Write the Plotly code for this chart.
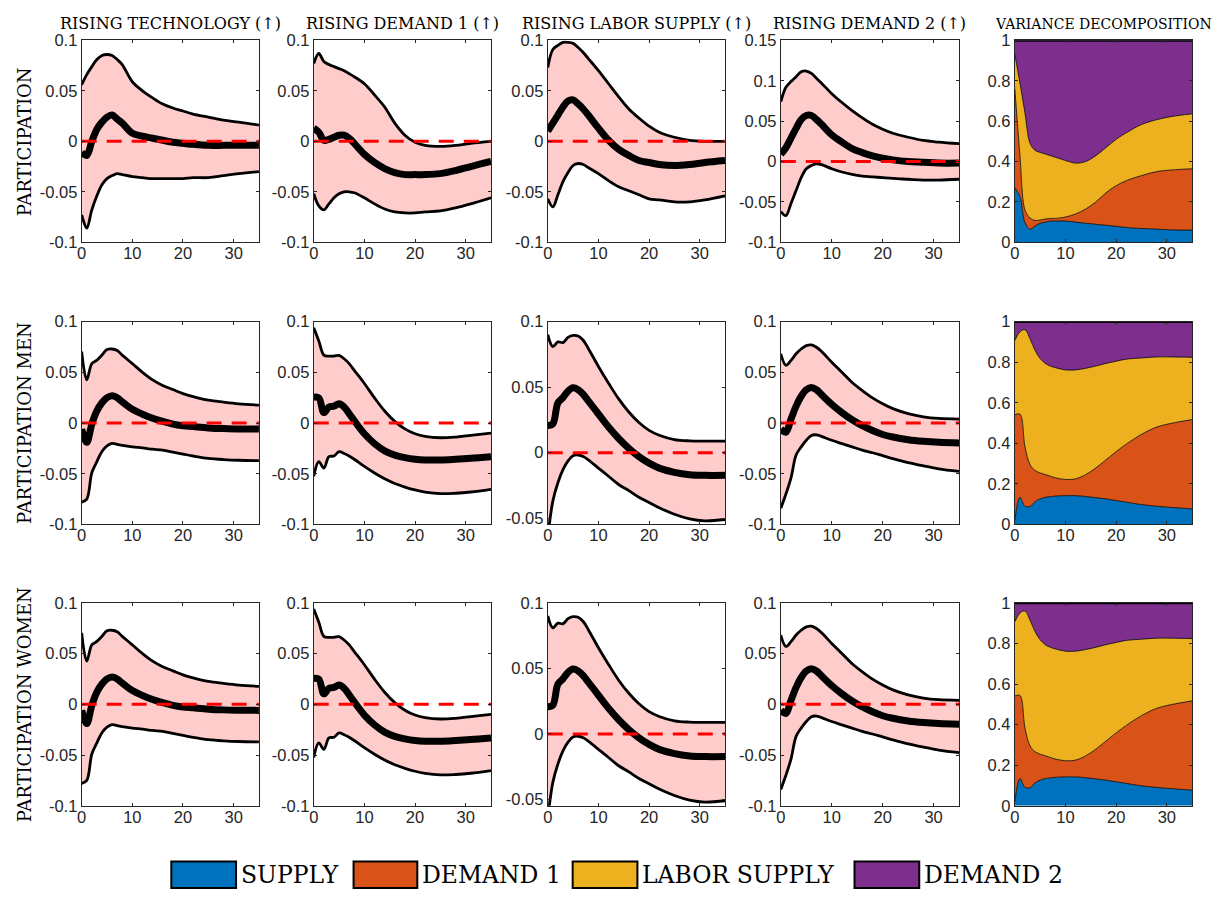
import plotly.graph_objects as go
from plotly.subplots import make_subplots

W, H = 1222, 899

# ---------------- data ----------------
HORIZON = [0, 1, 2, 3, 4, 5, 6, 7, 8, 10, 12, 14, 16, 18, 20, 22, 25, 28, 31, 35]

COL_TITLES = ["RISING TECHNOLOGY (\u2191)", "RISING DEMAND 1 (\u2191)", "RISING LABOR SUPPLY (\u2191)",
              "RISING DEMAND 2 (\u2191)", "VARIANCE DECOMPOSITION"]
ROW_TITLES = ["PARTICIPATION", "PARTICIPATION MEN", "PARTICIPATION WOMEN"]
SHOCKS = ["SUPPLY", "DEMAND 1", "LABOR SUPPLY", "DEMAND 2"]

# Row 1: participation
P_TECH_UP = [.056, .066, .074, .081, .085, .086, .085, .081, .076, .059, .050, .043, .037, .033, .030, .027, .024, .021, .019, .016]
P_TECH_MED = [-.011, -.014, .000, .012, .019, .024, .026, .022, .018, .008, .005, .003, .001, -.001, -.002, -.003, -.004, -.004, -.004, -.004]
P_TECH_LO = [-.073, -.086, -.068, -.054, -.043, -.037, -.034, -.032, -.033, -.035, -.036, -.037, -.037, -.037, -.037, -.036, -.036, -.034, -.032, -.030]

P_D1_UP = [.077, .087, .079, .076, .074, .072, .070, .067, .064, .057, .046, .034, .018, .006, -.001, -.004, -.005, -.004, -.002, .000]
P_D1_MED = [.013, .009, .001, .002, .004, .006, .006, .003, -.002, -.013, -.021, -.027, -.031, -.033, -.033, -.033, -.032, -.029, -.025, -.020]
P_D1_LO = [-.052, -.064, -.068, -.062, -.056, -.052, -.050, -.050, -.051, -.056, -.062, -.067, -.070, -.071, -.071, -.070, -.069, -.066, -.062, -.056]

P_LS_UP = [.073, .091, .095, .098, .098, .097, .093, .088, .082, .070, .057, .044, .032, .023, .015, .009, .004, .001, .000, .000]
P_LS_MED = [.010, .018, .026, .034, .040, .041, .037, .032, .026, .013, .001, -.008, -.014, -.019, -.021, -.023, -.024, -.023, -.021, -.019]
P_LS_LO = [-.057, -.065, -.053, -.040, -.031, -.024, -.022, -.023, -.026, -.032, -.039, -.045, -.049, -.053, -.057, -.058, -.060, -.060, -.058, -.054]

P_D2_UP = [.074, .092, .099, .105, .111, .112, .109, .103, .097, .084, .073, .063, .054, .046, .040, .035, .030, .026, .024, .022]
P_D2_MED = [.009, .017, .029, .041, .052, .057, .057, .052, .046, .033, .024, .016, .011, .007, .004, .002, .000, -.001, -.002, -.002]
P_D2_LO = [-.062, -.067, -.052, -.036, -.020, -.009, -.005, -.003, -.004, -.009, -.013, -.016, -.018, -.019, -.020, -.021, -.022, -.023, -.023, -.022]

P_VD_SUPPLY = [.270, .227, .097, .065, .081, .094, .100, .105, .105, .105, .100, .094, .089, .084, .079, .073, .068, .065, .061, .060]
P_VD_DEMAND1 = [.490, .203, .063, .055, .027, .016, .015, .013, .013, .020, .040, .071, .111, .161, .201, .232, .262, .285, .297, .304]
P_VD_LABOR = [.170, .360, .480, .370, .347, .335, .322, .311, .303, .280, .252, .235, .229, .224, .230, .237, .253, .257, .265, .272]
P_VD_DEMAND2 = [.070, .210, .360, .510, .545, .555, .563, .571, .579, .595, .608, .600, .571, .531, .490, .458, .417, .393, .377, .364]

# Row 2: participation men
M_TECH_UP = [.0705, .0425, .0586, .062, .067, .0725, .073, .0715, .067, .0586, .050, .0425, .037, .033, .029, .026, .0225, .0206, .019, .0177]
M_TECH_MED = [-.006, -.019, -.001, .012, .020, .025, .027, .025, .021, .0135, .0087, .0048, .0016, -.001, -.0026, -.0035, -.0048, -.0055, -.0058, -.006]
M_TECH_LO = [-.078, -.075, -.049, -.038, -.028, -.0225, -.020, -.021, -.022, -.0235, -.0245, -.0258, -.0267, -.0287, -.0306, -.0325, -.0348, -.036, -.0367, -.037]

M_D1_UP = [.094, .081, .067, .066, .066, .0667, .0634, .0586, .052, .039, .0248, .0119, .0016, -.0058, -.0106, -.0132, -.0145, -.0138, -.0122, -.010]
M_D1_MED = [.0254, .0248, .0103, .0158, .0167, .019, .0158, .0093, .0023, -.0106, -.0203, -.0274, -.0316, -.0341, -.0357, -.0364, -.0364, -.0357, -.0348, -.0332]
M_D1_LO = [-.0525, -.038, -.0444, -.0332, -.0325, -.0283, -.030, -.0325, -.0357, -.0428, -.0493, -.055, -.0596, -.0631, -.066, -.068, -.0696, -.0692, -.068, -.0654]

M_LS_UP = [.090, .081, .0845, .084, .088, .0895, .089, .0858, .0795, .0658, .053, .041, .031, .023, .017, .0133, .010, .009, .0088, .0088]
M_LS_MED = [.0208, .022, .038, .042, .047, .0495, .048, .0445, .0395, .0295, .0195, .0108, .0033, -.003, -.008, -.0118, -.015, -.0168, -.0173, -.0173]
M_LS_LO = [-.065, -.037, -.023, -.013, -.0063, -.0023, -.0018, -.003, -.0055, -.0118, -.018, -.0243, -.029, -.034, -.038, -.042, -.047, -.0505, -.052, -.051]

M_D2_UP = [.0683, .057, .0618, .0683, .073, .0763, .077, .0747, .0705, .060, .050, .040, .032, .0248, .019, .0142, .0093, .0061, .0045, .0039]
M_D2_MED = [-.0058, -.009, .0039, .0167, .0264, .0328, .035, .0328, .028, .0184, .0103, .0032, -.0026, -.0074, -.0113, -.0138, -.0164, -.018, -.019, -.0196]
M_D2_LO = [-.084, -.070, -.054, -.0316, -.0235, -.017, -.0122, -.0116, -.0132, -.017, -.0203, -.0235, -.0267, -.0293, -.0322, -.0351, -.039, -.0422, -.0451, -.0477]

M_VD_SUPPLY = [.020, .134, .090, .089, .113, .126, .134, .137, .140, .142, .142, .138, .132, .126, .118, .110, .098, .090, .084, .077]
M_VD_DEMAND1 = [.521, .410, .293, .206, .153, .128, .112, .101, .090, .080, .083, .108, .147, .193, .241, .286, .346, .390, .415, .440]
M_VD_LABOR = [.366, .406, .577, .620, .592, .564, .548, .543, .543, .540, .537, .524, .502, .475, .446, .419, .377, .346, .327, .307]
M_VD_DEMAND2 = [.093, .050, .040, .085, .142, .182, .206, .219, .227, .238, .238, .230, .219, .206, .195, .185, .179, .174, .174, .176]

# Row 3: participation women (same estimates as men in the source figure)
F_TECH_UP, F_TECH_MED, F_TECH_LO = M_TECH_UP, M_TECH_MED, M_TECH_LO
F_D1_UP, F_D1_MED, F_D1_LO = M_D1_UP, M_D1_MED, M_D1_LO
F_LS_UP, F_LS_MED, F_LS_LO = M_LS_UP, M_LS_MED, M_LS_LO
F_D2_UP, F_D2_MED, F_D2_LO = M_D2_UP, M_D2_MED, M_D2_LO
F_VD_SUPPLY, F_VD_DEMAND1, F_VD_LABOR, F_VD_DEMAND2 = M_VD_SUPPLY, M_VD_DEMAND1, M_VD_LABOR, M_VD_DEMAND2

# axis ticks
X_TICKS = [0, 10, 20, 30]
Y_TICKS_STD = [-0.1, -0.05, 0, 0.05, 0.1]
Y_TEXT_STD = ["-0.1", "-0.05", "0", "0.05", "0.1"]
Y_TICKS_D2 = [-0.1, -0.05, 0, 0.05, 0.1, 0.15]
Y_TEXT_D2 = ["-0.1", "-0.05", "0", "0.05", "0.1", "0.15"]
Y_TICKS_LS = [-0.05, 0, 0.05, 0.1]
Y_TEXT_LS = ["-0.05", "0", "0.05", "0.1"]
Y_TICKS_VD = [0, 0.2, 0.4, 0.6, 0.8, 1]
Y_TEXT_VD = ["0", "0.2", "0.4", "0.6", "0.8", "1"]

# ---------------- styling / layout ----------------
COL_PX = [(77, 255), (310, 488), (545, 723), (779, 958), (1014, 1192)]
ROW_PX = [(32, 238), (319, 526), (606, 813)]
BAND = "#FFCCCC"
AXC = "#262626"
VD_COLORS = ["#0072BD", "#D95319", "#EDB120", "#7E2F8E"]
SERIF = "DejaVu Serif"
SANS = "Liberation Sans, Arial"

IRF = [
    [(P_TECH_UP, P_TECH_MED, P_TECH_LO), (P_D1_UP, P_D1_MED, P_D1_LO), (P_LS_UP, P_LS_MED, P_LS_LO), (P_D2_UP, P_D2_MED, P_D2_LO)],
    [(M_TECH_UP, M_TECH_MED, M_TECH_LO), (M_D1_UP, M_D1_MED, M_D1_LO), (M_LS_UP, M_LS_MED, M_LS_LO), (M_D2_UP, M_D2_MED, M_D2_LO)],
    [(F_TECH_UP, F_TECH_MED, F_TECH_LO), (F_D1_UP, F_D1_MED, F_D1_LO), (F_LS_UP, F_LS_MED, F_LS_LO), (F_D2_UP, F_D2_MED, F_D2_LO)],
]
VD = [
    (P_VD_SUPPLY, P_VD_DEMAND1, P_VD_LABOR, P_VD_DEMAND2),
    (M_VD_SUPPLY, M_VD_DEMAND1, M_VD_LABOR, M_VD_DEMAND2),
    (F_VD_SUPPLY, F_VD_DEMAND1, F_VD_LABOR, F_VD_DEMAND2),
]
YAX = [
    [(Y_TICKS_STD, Y_TEXT_STD, [-0.1, 0.1]), (Y_TICKS_STD, Y_TEXT_STD, [-0.1, 0.1]),
     (Y_TICKS_STD, Y_TEXT_STD, [-0.1, 0.1]), (Y_TICKS_D2, Y_TEXT_D2, [-0.1, 0.15])],
    [(Y_TICKS_STD, Y_TEXT_STD, [-0.1, 0.1]), (Y_TICKS_STD, Y_TEXT_STD, [-0.1, 0.1]),
     (Y_TICKS_LS, Y_TEXT_LS, [-0.0548, 0.1]), (Y_TICKS_STD, Y_TEXT_STD, [-0.1, 0.1])],
    [(Y_TICKS_STD, Y_TEXT_STD, [-0.1, 0.1]), (Y_TICKS_STD, Y_TEXT_STD, [-0.1, 0.1]),
     (Y_TICKS_LS, Y_TEXT_LS, [-0.0548, 0.1]), (Y_TICKS_STD, Y_TEXT_STD, [-0.1, 0.1])],
]

fig = make_subplots(rows=3, cols=5, horizontal_spacing=0.02, vertical_spacing=0.05)

for r in range(3):
    for c in range(4):
        up, med, lo = IRF[r][c]
        kw = dict(row=r + 1, col=c + 1)
        fig.add_trace(go.Scatter(x=HORIZON, y=lo, mode="lines", line=dict(width=0, shape="spline"),
                                 hoverinfo="skip", showlegend=False), **kw)
        fig.add_trace(go.Scatter(x=HORIZON, y=up, mode="lines", line=dict(width=0, shape="spline"),
                                 fill="tonexty", fillcolor=BAND, hoverinfo="skip", showlegend=False), **kw)
        for band in (lo, up):
            fig.add_trace(go.Scatter(x=HORIZON, y=band, mode="lines",
                                     line=dict(color="black", width=2.8, shape="spline"),
                                     showlegend=False), **kw)
        fig.add_trace(go.Scatter(x=HORIZON, y=med, mode="lines",
                                 line=dict(color="black", width=7, shape="spline"),
                                 showlegend=False), **kw)
        fig.add_trace(go.Scatter(x=[HORIZON[0], HORIZON[-1]], y=[0, 0], mode="lines",
                                 line=dict(color="#FF0000", width=3, dash="15px,10px"),
                                 showlegend=False), **kw)
    # variance decomposition
    for k, share in enumerate(VD[r]):
        fig.add_trace(go.Scatter(x=HORIZON, y=share, mode="lines", stackgroup=f"vd{r}",
                                 fillcolor=VD_COLORS[k], name=SHOCKS[k],
                                 line=dict(color="black", width=3 if k == 3 else 0.8, shape="spline"),
                                 showlegend=False), row=r + 1, col=5)

axis_common = dict(showline=True, linecolor=AXC, linewidth=1, mirror="ticks", ticks="inside",
                   ticklen=3, tickcolor=AXC, showgrid=False, zeroline=False,
                   tickfont=dict(family=SANS, size=16.5, color=AXC))

for r in range(3):
    for c in range(5):
        x0, x1 = COL_PX[c]
        y0, y1 = ROW_PX[r]
        fig.update_xaxes(domain=[x0 / W, x1 / W], range=[0, 35], tickvals=X_TICKS,
                         ticktext=[str(v) for v in X_TICKS], ticklabelstandoff=-4,
                         row=r + 1, col=c + 1, **axis_common)
        if c < 4:
            tv, tt, rg = YAX[r][c]
        else:
            tv, tt, rg = Y_TICKS_VD, Y_TEXT_VD, [0, 1]
        fig.update_yaxes(domain=[1 - y1 / H, 1 - y0 / H], range=rg, tickvals=tv, ticktext=tt,
                         row=r + 1, col=c + 1, **axis_common)

annotations = []
for c, t in enumerate(COL_TITLES):
    x0, x1 = COL_PX[c]
    annotations.append(dict(text=t, x=(x0 + x1) / 2 / W, y=1 - 15 / H, xref="paper", yref="paper",
                            xanchor="center", yanchor="middle", showarrow=False,
                            font=dict(family=SERIF, size=16 if c < 4 else 14, color="black")))
for r, t in enumerate(ROW_TITLES):
    y0, y1 = ROW_PX[r]
    annotations.append(dict(text=t, x=19 / W, y=1 - (y0 + y1) / 2 / H, xref="paper", yref="paper",
                            xanchor="center", yanchor="middle", textangle=-90, showarrow=False,
                            font=dict(family=SERIF, size=18, color="black")))

# legend (boxes + labels)
LEG_BOX_PX = [(167, 232), (350, 414), (570, 635), (853, 918)]
shapes = []
for k, name in enumerate(SHOCKS):
    bx0, bx1 = LEG_BOX_PX[k]
    shapes.append(dict(type="rect", xref="paper", yref="paper", x0=bx0 / W, x1=bx1 / W,
                       y0=1 - 897 / H, y1=1 - 870 / H, fillcolor=VD_COLORS[k],
                       line=dict(color="black", width=2)))
    annotations.append(dict(text=name, x=(bx1 + 3) / W, y=1 - 884 / H, xref="paper", yref="paper",
                            xanchor="left", yanchor="middle", showarrow=False,
                            font=dict(family=SERIF, size=23.5, color="black")))

fig.update_layout(width=W, height=H, autosize=False, margin=dict(l=0, r=0, t=0, b=0),
                  paper_bgcolor="white", plot_bgcolor="white", showlegend=False,
                  annotations=annotations, shapes=shapes)

fig.write_html("out.html")
